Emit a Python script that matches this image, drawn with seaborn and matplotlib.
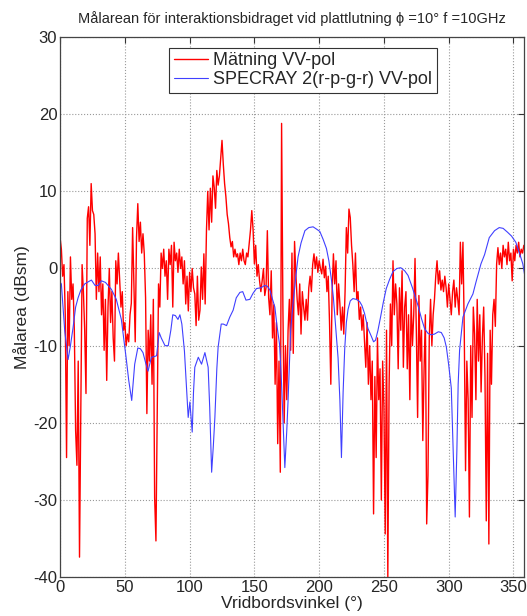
import numpy as np
import pandas as pd
import seaborn as sns
import matplotlib.pyplot as plt

# Mätning VV-pol, en punkt per grad (0..358)
red_val = [
    4.0, 2.5, -1.0, 0.5, -6.0, -24.5, -3.0, -10.0, 1.5, -4.0,
    -2.0, -8.0, -21.0, -25.5, -12.0, -37.4, -19.0, 0.5, -3.0, -8.0,
    -16.2, 6.5, 8.0, 3.0, 11.0, 7.5, 7.0, 4.5, -4.0, 2.0,
    -3.0, 1.5, -6.0, -2.0, -10.6, -4.0, -14.5, -5.0, 0.0, -7.0,
    -3.0, -9.0, -12.0, 1.0, -2.0, 2.0, -1.5, -5.0, -3.0, -8.0,
    -7.0, -10.0, -8.5, -9.5, -6.0, -4.5, 5.3, -2.0, -9.5, 4.0,
    8.4, 3.5, 6.0, 2.0, 4.5, 1.9, -3.8, -18.8, -8.0, -12.0,
    -6.0, -15.0, -4.0, -29.7, -35.3, -18.0, -2.0, -5.0, 2.0, 0.0,
    2.5, -1.0, 1.0, -4.0, 2.5, 0.5, 3.0, -5.0, 3.4, 1.0,
    2.0, -0.5, 2.5, 0.0, 1.5, -2.0, 1.0, -4.6, -1.0, -5.5,
    -0.5, -3.0, 0.0, -2.5, -3.3, -7.4, -1.0, -6.7, -5.4, 0.2,
    -4.0, 1.9, -4.6, 4.9, 10.0, 5.0, 10.4, 6.0, 12.0, 10.5,
    7.8, 12.7, 10.8, 12.0, 14.3, 16.6, 13.5, 11.0, 9.3, 7.0,
    5.8, 4.0, 2.8, 3.5, 1.5, 2.5, 1.5, 1.9, 0.5, 2.0,
    1.0, 2.5, 1.0, 0.5, 2.0, 1.5, 3.2, 5.0, 7.5, 5.0,
    0.6, 3.0, -1.0, 0.5, -1.6, -3.0, -1.6, 0.0, -3.5, -2.5,
    4.9, -3.8, -6.0, -0.3, -9.0, -4.7, -15.0, -7.0, -22.7, -12.0,
    -26.4, 18.8, -5.0, -20.0, -10.0, -17.0, -8.0, -4.0, -10.6, 2.0,
    -11.0, 3.5, -0.7, -4.0, -6.0, -2.0, -8.5, -3.0, -5.0, -6.7,
    -4.0, -6.7, -2.5, -1.0, -3.0, 0.5, 1.9, 0.0, 1.5, -0.5,
    1.0, 0.0, -0.7, 1.2, -1.2, 0.3, -3.0, -1.0, -7.0, -15.0,
    -3.0, 1.9, -2.0, 1.0, -6.0, -2.0, -4.6, -8.0, -5.0, -8.5,
    -3.0, 5.3, 2.0, 7.7, 6.6, 3.0, 0.5, -3.0, 2.0, -4.0,
    -3.0, -6.6, -5.0, -8.0, -6.0, -9.5, -12.8, -7.0, -15.0, -10.0,
    -17.0, -12.0, -31.8, -14.0, -24.5, -9.0, -17.0, -13.0, -30.0, -12.0,
    -18.0, -34.4, -8.0, -40.0, -15.0, -4.6, -10.0, 1.0, -6.0, -2.0,
    -4.6, -13.0, -2.5, -8.0, -0.3, -12.8, -5.0, -3.0, -13.0, -6.0,
    -17.0, -4.0, -10.0, -6.0, 1.3, -8.0, -19.3, -3.5, -12.0, -8.0,
    -22.3, -13.0, -6.0, -33.1, -26.8, -9.0, -4.0, -10.0, -6.0, -4.0,
    -1.0, 1.0, -2.0, -0.3, -2.8, -1.5, -3.0, -1.0, -2.5, -5.0,
    -2.0, -4.0, -6.0, -3.0, -1.5, -5.0, -2.5, -4.0, -6.0, 3.4,
    -2.0, 3.4, -8.0, -26.2, -12.0, -17.0, -32.2, -10.0, -19.3, -5.0,
    -8.5, -17.0, -4.0, -12.0, -6.0, -16.0, -9.0, -5.0, -14.0, -32.7,
    -11.0, -35.7, -8.0, -15.0, -6.0, -4.0, -7.5, 0.6, 2.7, 0.5,
    2.0, 0.0, 3.0, 1.5, 2.5, 0.5, 3.4, 1.0, 2.0, -1.6,
    2.5, 1.0, 3.0, 2.0, 3.4, 1.5, 2.5, 2.0, 3.0,
]
red_deg = list(range(len(red_val)))

# SPECRAY 2(r-p-g-r) VV-pol
blue_deg = [
    0, 1, 3.6, 6.2, 8, 10, 12, 13.9, 16, 19, 22, 24.2, 27, 29.3, 31.9, 35,
    39.6, 43.4, 47.3, 51, 53, 55.3, 57.6, 60, 62, 64, 66, 67.9, 70.5, 73,
    74.5, 76.5, 78.1, 81, 83.5, 85.5, 87, 89, 91, 92.5, 94, 96, 97.7, 98.9,
    100.2, 101, 102, 103, 104, 106.7, 109.2, 111.8, 114.3, 115.5, 117, 118.3,
    119.5, 121, 122, 124.4, 126, 128.5, 131, 133.6, 136, 138.8, 141, 143.5,
    146.5, 149, 151.6, 155, 158, 160, 162, 164, 165.8, 167.5, 169.4, 171,
    173.5, 175, 176, 178, 180, 182, 183.7, 186, 189, 192, 195.3, 198, 200.5,
    203, 205.6, 207.5, 209.5, 211, 212.5, 214.6, 216, 217.2, 218.5, 219.7,
    221, 222.3, 224, 226, 228.7, 231.3, 233, 235, 237.7, 240.3, 242, 243.5,
    245.4, 247.5, 249.5, 251.8, 254.4, 257, 260, 263, 266, 268.6, 272, 276.3,
    279, 281.4, 284, 286.5, 289, 292, 294.3, 296.5, 298.2, 300, 302, 303.2,
    304.5, 305, 306.3, 307.3, 308.4, 311, 314.8, 318.7, 321, 324.9, 327.7,
    331.3, 335.4, 339, 342, 345.4, 348.5, 351.8, 355, 357.2, 358.5,
]
blue_val = [
    -1.8, -2.0, -8.1, -11.8, -10.0, -7.7, -5.0, -3.8, -2.8, -2.0, -1.7, -1.5,
    -2.2, -2.2, -1.6, -1.8, -2.7, -4.0, -6.6, -11.6, -14.5, -17.1, -12.4,
    -10.3, -10.4, -10.9, -12.2, -13.3, -11.5, -11.4, -11.3, -8.3, -9.0,
    -10.0, -10.0, -8.0, -6.0, -6.1, -6.6, -6.0, -7.2, -10.7, -15.8, -19.3,
    -17.3, -19.0, -21.2, -16.0, -12.8, -11.5, -12.4, -10.9, -12.8, -18.0,
    -26.4, -23.0, -19.3, -13.0, -10.2, -7.2, -7.2, -7.4, -6.3, -5.4, -3.8,
    -3.1, -3.0, -4.1, -4.0, -3.2, -2.6, -2.5, -2.2, -2.3, -2.8, -4.0, -5.0,
    -7.5, -9.8, -15.0, -25.8, -21.0, -17.1, -8.0, -4.2, -1.0, 1.5, 3.3, 4.9,
    5.3, 5.4, 5.1, 4.8, 3.8, 2.6, 1.0, -1.5, -3.8, -7.0, -11.6, -17.1,
    -24.5, -16.0, -10.5, -7.0, -5.3, -4.2, -3.9, -4.0, -4.3, -4.8, -5.8,
    -7.8, -8.8, -9.5, -9.3, -8.0, -6.2, -4.4, -2.6, -1.4, -0.4, 0.0, 0.1,
    -0.3, -0.9, -2.5, -4.8, -6.5, -7.8, -8.4, -8.6, -8.5, -8.2, -8.3, -9.0,
    -10.2, -12.5, -15.5, -22.3, -30.1, -32.2, -23.6, -15.0, -10.6, -6.3,
    -4.6, -3.3, -1.8, 0.6, 1.8, 4.0, 4.9, 5.3, 5.2, 4.7, 4.2, 3.4, 1.8,
    0.6, -0.7,
]

x_ticks = [0, 50, 100, 150, 200, 250, 300, 350]
y_ticks = [-40, -30, -20, -10, 0, 10, 20, 30]

sns.set_style('white')
plt.rcParams['font.family'] = ['Liberation Sans', 'DejaVu Sans']
plt.rcParams['axes.unicode_minus'] = False

fig = plt.figure(figsize=(5.27, 6.16), dpi=100)
ax = fig.add_axes([0.114, 0.063, 0.880, 0.877])

sns.lineplot(x=red_deg, y=red_val, ax=ax, color='#ff0000', lw=1.0,
             label='Mätning VV-pol', sort=False)
sns.lineplot(x=blue_deg, y=blue_val, ax=ax, color='#4040ff', lw=0.8,
             label='SPECRAY 2(r-p-g-r) VV-pol', sort=False)

ax.set_xlim(0, 358)
ax.set_ylim(-40, 30)
ax.set_xticks(x_ticks)
ax.set_yticks(y_ticks)
ax.grid(True, linestyle=':', color='#999999', lw=0.8)
ax.tick_params(direction='in', top=True, right=True, length=4,
               labelsize=12, color='#333333', pad=2)
for sp in ax.spines.values():
    sp.set_color('#444444')
    sp.set_linewidth(0.9)

ax.set_title('Målarean för interaktionsbidraget vid plattlutning ϕ =10° f =10GHz',
             fontsize=10.5, pad=10)
ax.set_xlabel('Vridbordsvinkel (°)', fontsize=12.5, labelpad=1)
ax.set_ylabel('Målarea (dBsm)', fontsize=12.5, labelpad=2)

leg = ax.legend(loc='upper left', bbox_to_anchor=(0.235, 0.98), fontsize=13,
                frameon=True, fancybox=False, framealpha=1, edgecolor='#333333',
                handlelength=1.9, borderpad=0.25, labelspacing=0.1,
                handletextpad=0.3, borderaxespad=0)
leg.get_frame().set_linewidth(0.8)

fig.savefig('out.png', dpi=100)
